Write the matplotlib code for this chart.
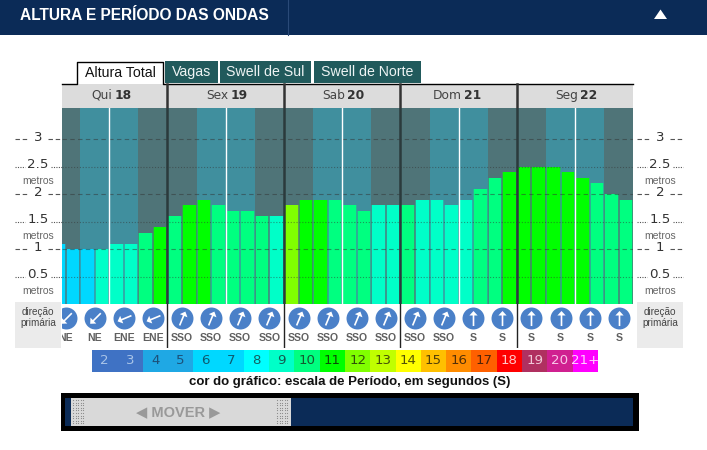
#!/usr/bin/env python3
# Altura e periodo das ondas - forecast bars coloured by wave period
import matplotlib
matplotlib.use("Agg")
import matplotlib.pyplot as plt
import numpy as np
from matplotlib.markers import MarkerStyle
from matplotlib.patches import Polygon, Rectangle
from matplotlib.path import Path
from matplotlib.transforms import Affine2D, blended_transform_factory

W, H = 707, 450

# ===== DATA =====
day_names = ["Qui", "Sex", "Sab", "Dom", "Seg"]
day_numbers = ["18", "19", "20", "21", "22"]
heights = [1.1, 1.0, 1.0, 1.0, 1.1, 1.1, 1.3, 1.4,
           1.6, 1.8, 1.9, 1.8, 1.7, 1.7, 1.6, 1.6,
           1.8, 1.9, 1.9, 1.9, 1.8, 1.7, 1.8, 1.8,
           1.8, 1.9, 1.9, 1.8, 1.9, 2.1, 2.3, 2.4,
           2.5, 2.5, 2.5, 2.4, 2.3, 2.2, 2.0, 1.9]
periods = [7, 6, 6, 9, 9, 9, 10, 11,
           10, 11, 11, 10, 10, 10, 10, 9,
           12, 11, 11, 10, 10, 10, 9, 9,
           10, 9, 9, 9, 9, 10, 10, 11,
           11, 11, 11, 11, 11, 10, 10, 10]
directions = ["NE", "NE", "ENE", "ENE",
              "SSO", "SSO", "SSO", "SSO",
              "SSO", "SSO", "SSO", "SSO",
              "SSO", "SSO", "S", "S",
              "S", "S", "S", "S"]
# compass bearing the arrow icon points to
arrow_bearing = {"NE": 225, "ENE": 247.5, "SSO": 22.5, "S": 0}

scale_labels = ["2", "3", "4", "5", "6", "7", "8", "9", "10", "11", "12",
                "13", "14", "15", "16", "17", "18", "19", "20", "21+"]
scale_colors = ["#3f72c4", "#3f72c4", "#1fa8e4", "#1fa8e4", "#00d8ff", "#00d8ff",
                "#00ffff", "#00ffc8", "#00ff80", "#00ff00", "#80ff00", "#c0ff00",
                "#ffff00", "#ffc000", "#ff8c00", "#ff6000", "#ff0000", "#b03060",
                "#d02090", "#ff00ff"]
scale_text = ["#a9c4e8", "#a9c4e8", "#1c5078", "#1c5078", "#0e5a70", "#0e5a70",
              "#146060", "#145a50", "#145a30", "#0c4a08", "#2f5208", "#465208",
              "#525208", "#524008", "#523008", "#522408", "#ffc8c8", "#f0c8d8",
              "#f8c8e8", "#ffd0ff"]
tab_labels = ["Vagas", "Swell de Sul", "Swell de Norte"]
tab_spans = [(165, 218), (220, 311), (314, 421)]
y_levels = [0.5, 1, 1.5, 2, 2.5, 3]

NAVY = "#0b2b57"
SANS = ["Liberation Sans"]

period_color = dict(zip(scale_labels, scale_colors))
bar_colors = [period_color[str(p)] for p in periods]

fig = plt.figure(figsize=(W / 100, H / 100), dpi=100)


def add_axes_px(x0, y0, x1, y1, **kw):
    return fig.add_axes([x0 / W, 1 - y1 / H, (x1 - x0) / W, (y1 - y0) / H], **kw)


# ===== PAGE FURNITURE (pixel coordinates) =====
bg = add_axes_px(0, 0, W, H)
bg.set_xlim(0, W)
bg.set_ylim(H, 0)
bg.axis("off")

bg.add_patch(Rectangle((0, 0), W, 35, color=NAVY, lw=0))
bg.plot([287.5, 287.5], [0, 35], color="#2a4a78", lw=0.8)
bg.text(20, 16, "ALTURA E PERÍODO DAS ONDAS", color="white", fontsize=11.2,
        fontweight="bold", family=SANS, va="center", ha="left")
bg.add_patch(Polygon([[654, 19], [667, 19], [660.5, 9.5]], color="white", lw=0))

# tabs
for (x0, x1), label in zip(tab_spans, tab_labels):
    bg.add_patch(Rectangle((x0, 61), x1 - x0, 22, color="#215a5c", lw=0))
    bg.text((x0 + x1) / 2, 72, label, color="#eef4f4", fontsize=10.2, family=SANS,
            ha="center", va="center")
bg.plot([62, 76.5, 76.5, 163, 163, 633], [83.5, 83.5, 61.5, 61.5, 83.5, 83.5],
        color="black", lw=1.0)
bg.text(120, 73, "Altura Total", color="#111111", fontsize=10.2, family=SANS,
        ha="center", va="center")

# day header
bg.add_patch(Rectangle((62, 84), 571, 24, color="#dcdcdc", lw=0))

# side boxes
for x0 in (15, 637):
    bg.add_patch(Rectangle((x0, 302), 46, 46, color="#ebebeb", lw=0))
    bg.text(x0 + 23, 317.5, "direção\nprimária", color="#444444", fontsize=7.2,
            family=SANS, ha="center", va="center", linespacing=1.1)

# ===== BAR CHART =====
ax = add_axes_px(62, 108, 633, 304.3)
bar_px = 14.56
ax.set_xlim((62 - 51) / bar_px, (633 - 51) / bar_px)
ax.set_ylim(0, 196.3 / 55)
ax.axis("off")
n_days = len(day_names)

for d in range(n_days):
    ax.axvspan(d * 8, d * 8 + 2, color="#4f7478", lw=0)
    ax.axvspan(d * 8 + 2, d * 8 + 6, color="#408f9e", lw=0)
    ax.axvspan(d * 8 + 6, d * 8 + 8, color="#4f7478", lw=0)

xs = np.arange(len(heights)) + 0.5
ax.bar(xs, heights, width=1.0, color=bar_colors, alpha=0.28, lw=0, zorder=2)
ax.bar(xs, heights, width=0.86, color=bar_colors, lw=0, zorder=3)

for level in y_levels:
    style = (0, (4, 3)) if float(level).is_integer() else (0, (1, 1.6))
    ax.axhline(level, color="#333333", alpha=0.5, lw=0.8, ls=style, zorder=4)
for d in range(n_days):
    ax.axvline(d * 8 + 4, color="white", lw=1.0, zorder=5)
    if d:
        ax.axvline(d * 8, color="#2b3a3c", lw=1.8, zorder=6)

# y labels on both sides, placed with the chart's y scale
trans = blended_transform_factory(bg.transData, ax.transData)
for x_mid, x_outer in ((38, (15, 62)), (660, (637, 683))):
    for level in y_levels:
        whole = float(level).is_integer()
        style = (0, (4, 2.5)) if whole else (0, (1, 1.2))
        gap = 10 if whole else 13
        for xa, xb in ((x_outer[0], x_mid - gap), (x_mid + gap, x_outer[1])):
            bg.plot([xa, xb], [304.3 - level * 55] * 2, color="#555555", lw=0.8, ls=style)
        ax.text(x_mid, level + 0.04, f"{level:g}", transform=trans, color="#333333",
                fontsize=9.6, ha="center", va="center", clip_on=False)
        if not whole:
            ax.text(x_mid, level - 0.26, "metros", transform=trans, color="#666666",
                    fontsize=7.5, family=SANS, ha="center", va="center", clip_on=False)

# ===== DIRECTION ROW =====
ax_dir = add_axes_px(62, 304.3, 633, 348)
ax_dir.set_xlim(ax.get_xlim())
ax_dir.set_ylim(43.7, 0)
ax_dir.axis("off")

# arrow outline, pointing up, half-length 1
arrow_path = Path([(-0.11, -1), (0.11, -1), (0.11, 0.4), (0.55, 0.4), (0, 1),
                   (-0.55, 0.4), (-0.11, 0.4), (-0.11, -1)], closed=True)

dir_x = np.arange(len(directions)) * 2 + 1.0
ax_dir.scatter(dir_x, [13.7] * len(dir_x), s=250, color="#4a80c8", lw=0, zorder=2)
for x, label in zip(dir_x, directions):
    marker = MarkerStyle(arrow_path, transform=Affine2D().rotate_deg(-arrow_bearing[label]))
    ax_dir.scatter([x], [13.7], s=117, marker=marker, color="white", lw=0, zorder=3)
    ax_dir.text(x, 33.3, label, color="#606060", fontsize=7.6, fontweight="bold",
                family=SANS, ha="center", va="center", clip_on=True)
for d in range(1, n_days):
    ax_dir.axvline(d * 8, color="#222222", lw=1.0)

# ===== DAY LABELS =====
for d in range(n_days):
    x_mid = 51 + (d + 0.5) * 8 * bar_px
    bg.text(x_mid + 3, 95.5, day_names[d], color="#444444", fontsize=8.8, ha="right", va="center")
    bg.text(x_mid + 5, 95.5, day_numbers[d], color="#333333", fontsize=8.8, fontweight="bold",
            ha="left", va="center")
    if d:
        x_sep = 51 + d * 8 * bar_px
        bg.plot([x_sep, x_sep], [84, 108], color="#333333", lw=1.8)

# ===== PERIOD SCALE =====
ax_scale = add_axes_px(92, 350, 598, 372)
ax_scale.set_xlim(0, len(scale_labels))
ax_scale.set_ylim(0, 1)
ax_scale.axis("off")
ax_scale.bar(np.arange(len(scale_labels)) + 0.5, [1] * len(scale_labels), width=1.0,
             color=scale_colors, lw=0)
for i, label in enumerate(scale_labels):
    ax_scale.text(i + 0.5, 0.52, label, color=scale_text[i], fontsize=9.6, ha="center", va="center")

bg.text(350, 382, "cor do gráfico: escala de Período, em segundos (S)", color="#111111",
        fontsize=9.5, fontweight="bold", family=SANS, ha="center", va="center")

# ===== SLIDER =====
bg.add_patch(Rectangle((61, 393), 578, 38, color="black", lw=0))
bg.add_patch(Rectangle((65, 398), 568, 28, color=NAVY, lw=0))
bg.add_patch(Rectangle((71, 398), 220, 28, color="#d9d9d9", lw=0))
for x0 in (73, 277):
    gx, gy = np.meshgrid(np.arange(x0, x0 + 13, 2.6), np.arange(400, 425, 2.6))
    bg.scatter(gx.ravel(), gy.ravel(), s=0.7, color="#888888", lw=0)
bg.text(178, 412, "◀ MOVER ▶", color="#999999", fontsize=10.5, fontweight="bold",
        family=SANS + ["DejaVu Sans"], ha="center", va="center")

fig.savefig("out.png", dpi=100, facecolor="white")
